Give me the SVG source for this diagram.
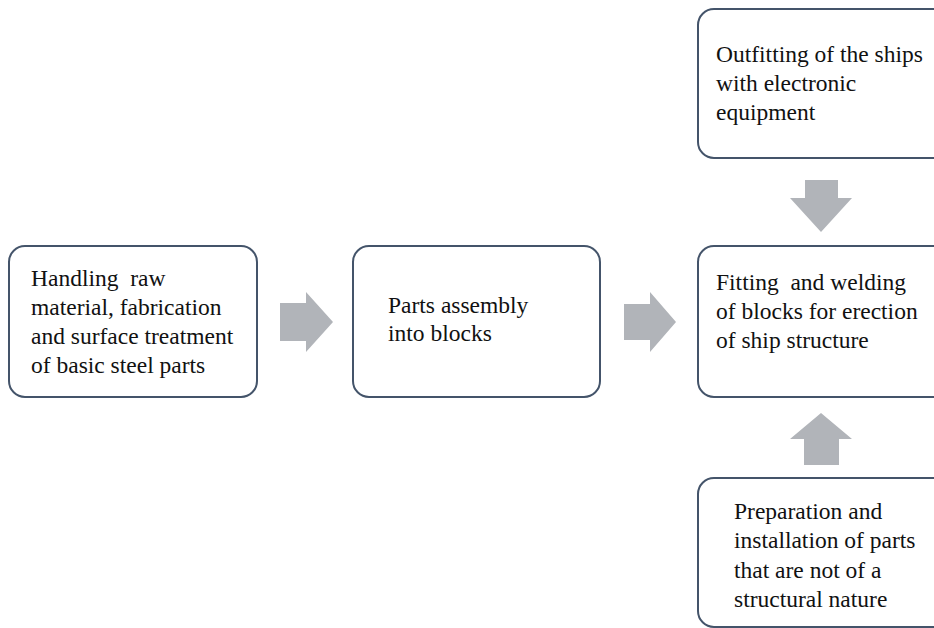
<svg xmlns="http://www.w3.org/2000/svg" width="934" height="628" viewBox="0 0 934 628">
  <style>
    .box { fill: #ffffff; stroke: #44546a; stroke-width: 2; }
    .label { font-family: "Liberation Serif", "Times New Roman", serif; font-size: 23.5px; fill: #111111; }
    .arrow { fill: #b1b4b9; }
  </style>
  <rect width="934" height="628" fill="#ffffff"/>

  <g id="node-raw-material">
    <rect class="box" x="9" y="246" width="248" height="151" rx="16"/>
    <text class="label">
      <tspan x="31" y="286">Handling&#160; raw</tspan>
      <tspan x="31" y="315">material, fabrication</tspan>
      <tspan x="31" y="344">and surface treatment</tspan>
      <tspan x="31" y="373">of basic steel parts</tspan>
    </text>
  </g>

  <g id="node-parts-assembly">
    <rect class="box" x="353" y="246" width="247" height="151" rx="16"/>
    <text class="label">
      <tspan x="388" y="313">Parts assembly</tspan>
      <tspan x="388" y="341">into blocks</tspan>
    </text>
  </g>

  <g id="node-erection">
    <rect class="box" x="698" y="246" width="250" height="151" rx="16"/>
    <text class="label">
      <tspan x="716" y="290">Fitting&#160; and welding</tspan>
      <tspan x="716" y="319">of blocks for erection</tspan>
      <tspan x="716" y="348">of ship structure</tspan>
    </text>
  </g>

  <g id="node-outfitting">
    <rect class="box" x="698" y="9" width="250" height="149" rx="16"/>
    <text class="label">
      <tspan x="716" y="62">Outfitting of the ships</tspan>
      <tspan x="716" y="91">with electronic</tspan>
      <tspan x="716" y="120">equipment</tspan>
    </text>
  </g>

  <g id="node-non-structural">
    <rect class="box" x="698" y="478" width="250" height="149" rx="16"/>
    <text class="label">
      <tspan x="734" y="519">Preparation and</tspan>
      <tspan x="734" y="548">installation of parts</tspan>
      <tspan x="734" y="578">that are not of a</tspan>
      <tspan x="734" y="607">structural nature</tspan>
    </text>
  </g>

  <g id="connectors">
    <!-- block arrow: raw material -> parts assembly -->
    <polygon class="arrow" points="280,303 306,303 306,292 333,322 306,352 306,341 280,341"/>
    <!-- block arrow: parts assembly -> erection -->
    <polygon class="arrow" points="624,304 650,304 650,292 676,322 650,352 650,340 624,340"/>
    <!-- block arrow: outfitting -> erection -->
    <polygon class="arrow" points="805,180 838,180 838,198 852,198 821,232 790,198 805,198"/>
    <!-- block arrow: non-structural parts -> erection -->
    <polygon class="arrow" points="804,465 839,465 839,439 852,439 821,413 790,439 804,439"/>
  </g>
</svg>
